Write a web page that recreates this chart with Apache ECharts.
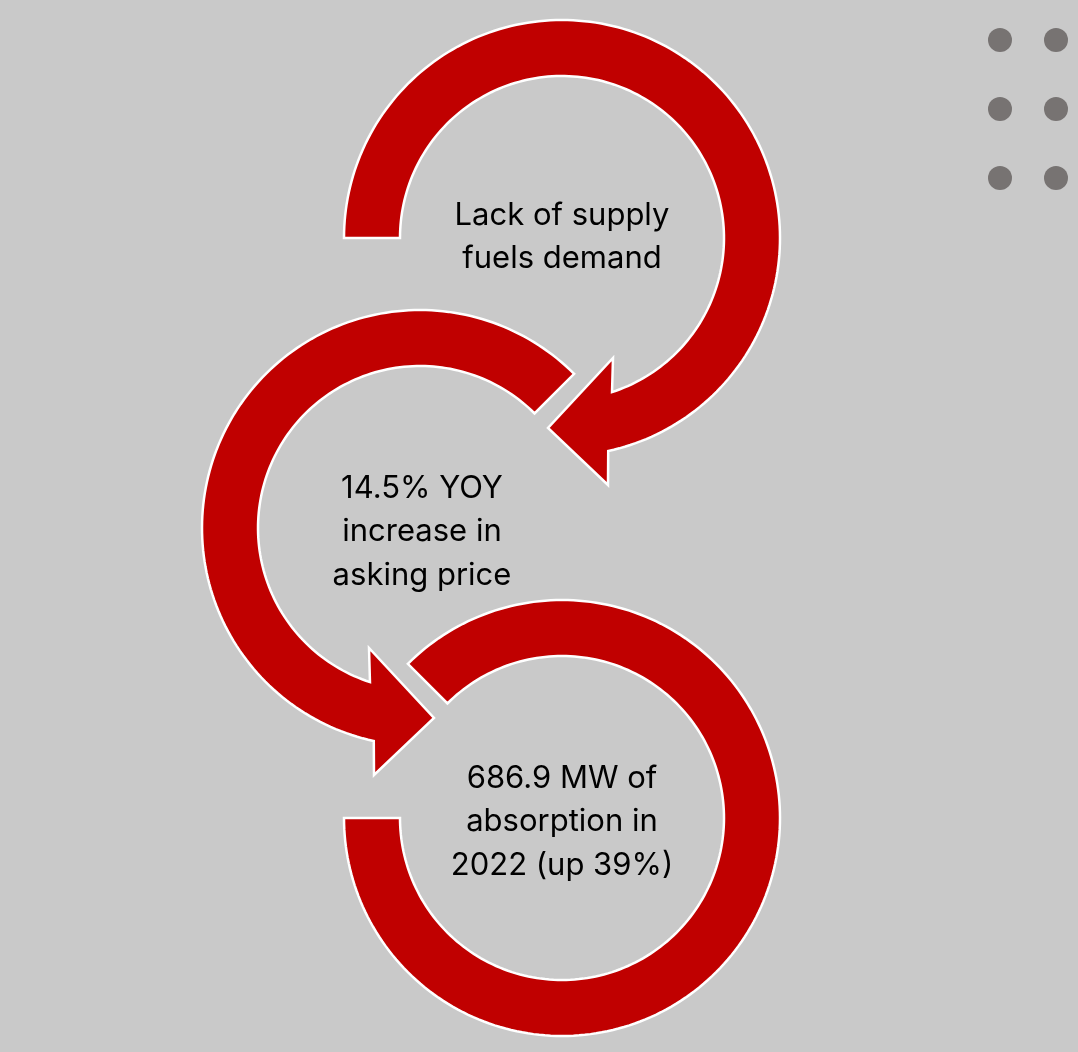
<!DOCTYPE html>
<html>
<head>
<meta charset="utf-8">
<script src="https://cdn.jsdelivr.net/npm/echarts@6/dist/echarts.min.js"></script>
<style>
html,body{margin:0;padding:0;background:#c9c9c9;}
#chart{width:1078px;height:1052px;}
</style>
</head>
<body>
<div id="chart"></div>
<script>
// ---- data ----
const stepLabels = [
  'Lack of supply\nfuels demand',
  '14.5% YOY\nincrease in\nasking price',
  '686.9 MW of\nabsorption in\n2022 (up 39%)'
];
const stepOrder = [0, 1, 2];
const dotXs = [1000, 1056];
const dotYs = [40, 109, 178];

// ---- layout (page units, mapped through hidden axes) ----
const W = 1078, H = 1052;
const LAYOUT = [
  {cx: 562, cy: 238, tail: 180, dir: 1, head: true, mirror: false, tdy: -1, tdx: 0},
  {cx: 420, cy: 528, tail: -45, dir: -1, head: true, mirror: true, tdy: 4, tdx: 2},
  {cx: 562, cy: 818, tail: -135, dir: 1, head: false, end: 180, tdy: 4, tdx: 0}
];
const R_IN = 162, R_OUT = 218;
// arrowhead in local coordinates (arrow 1 orientation)
const HEAD = {innerNotch: [50, 154], outerNotch: [46, 212], innerBarb: [51, 120], tip: [-14, 190], outerBarb: [46, 247]};

const DEG = Math.PI / 180;
function arcPts(cx, cy, r, a0, a1) {
  const pts = [];
  const n = Math.max(8, Math.ceil(Math.abs(a1 - a0) / 1.5));
  for (let i = 0; i <= n; i++) {
    const a = (a0 + (a1 - a0) * i / n) * DEG;
    pts.push([cx + r * Math.cos(a), cy + r * Math.sin(a)]);
  }
  return pts;
}
function ang(p) { return Math.atan2(p[1], p[0]) / DEG; }

const dotData = [];
dotYs.forEach(y => dotXs.forEach(x => dotData.push([x, y])));

const chart = echarts.init(document.getElementById('chart'), null, {renderer: 'canvas'});
chart.setOption({
  backgroundColor: '#c9c9c9',
  animation: false,
  grid: {left: 0, right: 0, top: 0, bottom: 0},
  xAxis: {type: 'value', min: 0, max: W, show: false},
  yAxis: {type: 'value', min: 0, max: H, inverse: true, show: false},
  series: [
    {
      type: 'custom',
      data: stepOrder.map(i => [LAYOUT[i].cx, LAYOUT[i].cy, i]),
      renderItem: function (params, api) {
        const i = api.value(2);
        const L = LAYOUT[i];
        const c = api.coord([api.value(0), api.value(1)]);
        const s = api.size([1, 1]);
        const kx = s[0], ky = s[1];
        const rIn = R_IN * kx, rOut = R_OUT * kx;
        let pts = [];
        if (L.head) {
          const m = L.mirror ? -1 : 1;
          const tr = p => [c[0] + m * p[0] * kx, c[1] + p[1] * ky];
          const loc = p => [m * p[0], p[1]];
          let aO = ang(loc(HEAD.outerNotch));
          let aI = ang(loc(HEAD.innerNotch));
          if (L.dir > 0) { while (aO < L.tail) aO += 360; while (aI < L.tail) aI += 360; }
          else { while (aO > L.tail) aO -= 360; while (aI > L.tail) aI -= 360; }
          pts = pts.concat(arcPts(c[0], c[1], rOut, L.tail, aO));
          pts.push(tr(HEAD.outerBarb), tr(HEAD.tip), tr(HEAD.innerBarb));
          pts = pts.concat(arcPts(c[0], c[1], rIn, aI, L.tail));
        } else {
          let e = L.end;
          while (e < L.tail) e += 360;
          pts = pts.concat(arcPts(c[0], c[1], rOut, L.tail, e));
          pts = pts.concat(arcPts(c[0], c[1], rIn, e, L.tail));
        }
        return {
          type: 'group',
          children: [
            {
              type: 'polygon',
              shape: {points: pts},
              style: {fill: '#c00000', stroke: '#ffffff', lineWidth: 2.5, lineJoin: 'miter'}
            },
            {
              type: 'text',
              x: c[0] + L.tdx * kx, y: c[1] + L.tdy * ky,
              style: {
                text: stepLabels[i],
                align: 'center', verticalAlign: 'middle',
                fontFamily: 'Inter', fontSize: 31, lineHeight: 43.5,
                fill: '#000000'
              }
            }
          ]
        };
      }
    },
    {
      type: 'scatter',
      data: dotData,
      symbol: 'circle',
      symbolSize: 24,
      itemStyle: {color: '#777372', opacity: 1},
      silent: true
    }
  ]
});
</script>
</body>
</html>
